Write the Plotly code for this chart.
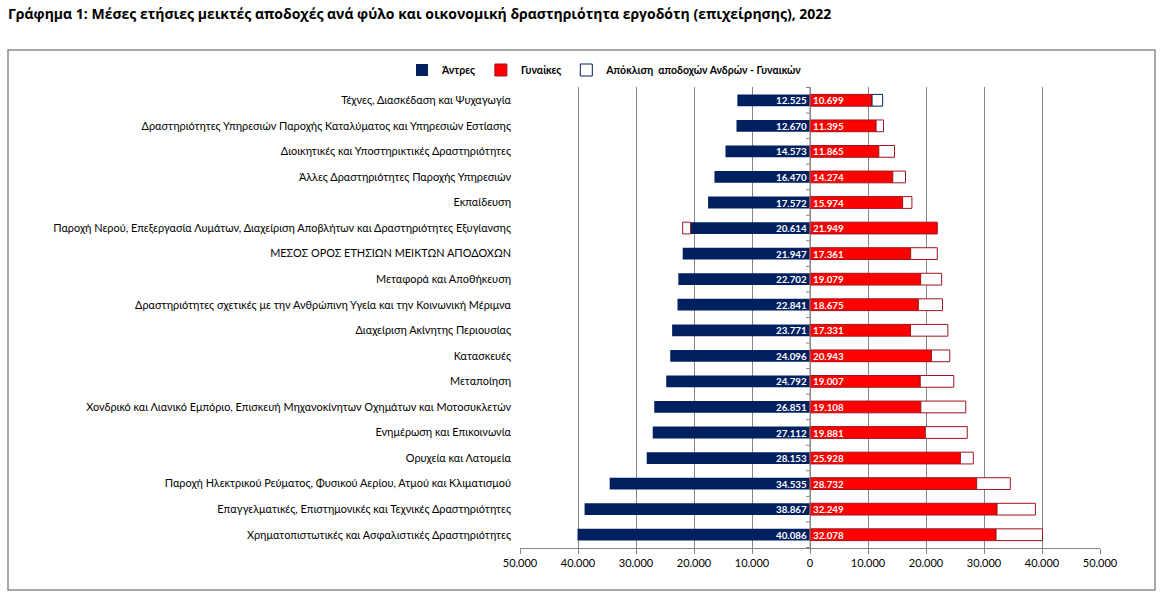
import plotly.graph_objects as go

categories = [
    "Τέχνες, Διασκέδαση και Ψυχαγωγία",
    "Δραστηριότητες Υπηρεσιών Παροχής Καταλύματος και Υπηρεσιών Εστίασης",
    "Διοικητικές και Υποστηρικτικές Δραστηριότητες",
    "Άλλες Δραστηριότητες Παροχής Υπηρεσιών",
    "Εκπαίδευση",
    "Παροχή Νερού, Επεξεργασία Λυμάτων, Διαχείριση Αποβλήτων και Δραστηριότητες Εξυγίανσης",
    "ΜΕΣΟΣ ΟΡΟΣ ΕΤΗΣΙΩΝ ΜΕΙΚΤΩΝ ΑΠΟΔΟΧΩΝ",
    "Μεταφορά και Αποθήκευση",
    "Δραστηριότητες σχετικές με την Ανθρώπινη Υγεία και την Κοινωνική Μέριμνα",
    "Διαχείριση Ακίνητης Περιουσίας",
    "Κατασκευές",
    "Μεταποίηση",
    "Χονδρικό και Λιανικό Εμπόριο, Επισκευή Μηχανοκίνητων Οχημάτων και Μοτοσυκλετών",
    "Ενημέρωση και Επικοινωνία",
    "Ορυχεία και Λατομεία",
    "Παροχή Ηλεκτρικού Ρεύματος, Φυσικού Αερίου, Ατμού και Κλιματισμού",
    "Επαγγελματικές, Επιστημονικές και Τεχνικές Δραστηριότητες",
    "Χρηματοπιστωτικές και Ασφαλιστικές Δραστηριότητες",
]
men = [12525, 12670, 14573, 16470, 17572, 20614, 21947, 22702, 22841, 23771,
       24096, 24792, 26851, 27112, 28153, 34535, 38867, 40086]
women = [10699, 11395, 11865, 14274, 15974, 21949, 17361, 19079, 18675, 17331,
         20943, 19007, 19108, 19881, 25928, 28732, 32249, 32078]
tick_values = [-50000, -40000, -30000, -20000, -10000, 0, 10000, 20000, 30000, 40000, 50000]
tick_labels = ["50.000", "40.000", "30.000", "20.000", "10.000", "0",
               "10.000", "20.000", "30.000", "40.000", "50.000"]

title_text = ("Γράφημα 1: Μέσες ετήσιες μεικτές αποδοχές ανά φύλο και οικονομική "
              "δραστηριότητα εργοδότη (επιχείρησης), 2022")

def fmt(v):
    return f"{v:,}".replace(",", ".")

W, H = 1168, 603
ML, MR, MT, MB = 520, 68, 87, 55
PW, PH = W - ML - MR, H - MT - MB

def px_x(p):
    return (p - ML) / PW

def px_y(p):
    return 1 - (p - MT) / PH

NAVY = "#002060"
RED = "#FF0000"
DARKRED = "#A0141E"
n = len(categories)

gap_base = []
gap_len = []
for m, w in zip(men, women):
    if m >= w:
        gap_base.append(w)
        gap_len.append(m - w)
    else:
        gap_base.append(-m)
        gap_len.append(-(w - m))
gap_line = [NAVY] + [DARKRED] * (n - 1)

LABEL_FONT = dict(color="white", size=9.8, family="Lato", weight="bold")
BAR_W = 0.46

fig = go.Figure()
fig.add_trace(go.Bar(
    y=categories, x=[-m for m in men], orientation="h", name="Άντρες",
    marker=dict(color=NAVY, line=dict(width=0)),
    text=[fmt(m) for m in men], textposition="inside", insidetextanchor="start",
    textfont=LABEL_FONT, constraintext="none",
    width=BAR_W, hoverinfo="skip",
))
fig.add_trace(go.Bar(
    y=categories, x=women, orientation="h", name="Γυναίκες",
    marker=dict(color=RED, line=dict(width=1, color=DARKRED)),
    text=[fmt(w) for w in women], textposition="inside", insidetextanchor="start",
    textfont=LABEL_FONT, constraintext="none",
    width=BAR_W, hoverinfo="skip",
))
fig.add_trace(go.Bar(
    y=categories, x=gap_len, base=gap_base, orientation="h",
    name="Απόκλιση  αποδοχών Ανδρών - Γυναικών",
    marker=dict(color="white", line=dict(width=1, color=gap_line)),
    width=BAR_W, hoverinfo="skip",
))

shapes = []
shapes.append(dict(type="rect", xref="paper", yref="paper",
                   x0=px_x(8), x1=px_x(1155), y0=px_y(50), y1=px_y(590),
                   line=dict(color="#8c8c8c", width=1.5), fillcolor="rgba(0,0,0,0)", layer="below"))
shapes.append(dict(type="line", xref="x", yref="paper", x0=0, x1=0, y0=0, y1=1,
                   line=dict(color="#868686", width=1), layer="above"))
for i in range(n + 1):
    shapes.append(dict(type="line", xref="x", yref="y", x0=-700, x1=0,
                       y0=i - 0.5, y1=i - 0.5, line=dict(color="#868686", width=1)))

fig.update_layout(
    width=W, height=H,
    margin=dict(l=ML, r=MR, t=MT, b=MB),
    paper_bgcolor="white", plot_bgcolor="white",
    barmode="overlay",
    font=dict(family="Lato", size=11, color="black"),
    title=dict(text=f"<b>{title_text}</b>", x=8 / W, xanchor="left",
               xref="container", y=1 - 14 / H, yanchor="middle", yref="container",
               font=dict(family="Open Sans", size=14, color="black")),
    legend=dict(orientation="h", x=px_x(605), xanchor="center", y=px_y(70), yanchor="middle",
                font=dict(size=10.5, family="Lato", weight="bold"),
                itemwidth=30, traceorder="normal",
                bgcolor="rgba(0,0,0,0)"),
    shapes=shapes,
    showlegend=True,
)
fig.update_xaxes(range=[-50000, 50000], tickvals=tick_values, ticktext=tick_labels,
                 showgrid=True, gridcolor="#868686", gridwidth=1,
                 showline=True, linecolor="#868686", linewidth=1,
                 ticks="outside", ticklen=5, tickcolor="#868686",
                 zeroline=False, tickfont=dict(size=11, family="Lato"), fixedrange=True)
fig.update_yaxes(categoryorder="array", categoryarray=categories, autorange="reversed",
                 showgrid=False, showline=False, ticks="",
                 ticklabelstandoff=8,
                 tickfont=dict(size=10.9, family="Lato"), fixedrange=True)

fig.write_html("out.html", config={"displayModeBar": False},
               post_script="document.body.style.margin='0px';")
